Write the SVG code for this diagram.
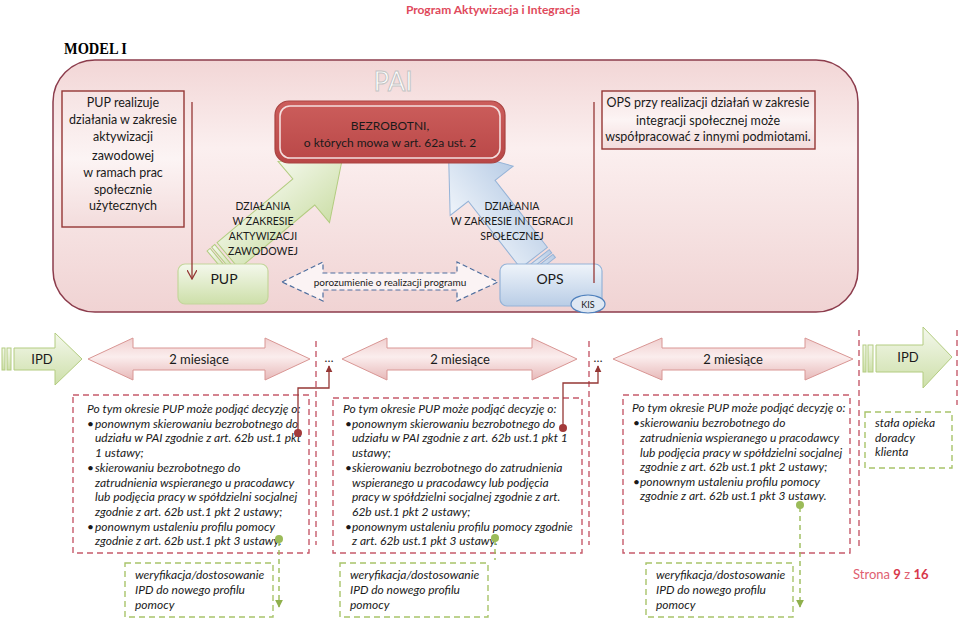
<svg xmlns="http://www.w3.org/2000/svg" width="960" height="619" viewBox="0 0 960 619">
<defs>
<linearGradient id="bgG" x1="0" y1="0" x2="0" y2="1"><stop offset="0" stop-color="#f2d6d6"/><stop offset="0.35" stop-color="#fbefef"/><stop offset="1" stop-color="#f0d3d3"/></linearGradient>
<linearGradient id="boxG" x1="0" y1="0" x2="0" y2="1"><stop offset="0" stop-color="#f6e3e3"/><stop offset="0.5" stop-color="#fcf4f4"/><stop offset="1" stop-color="#f3dcdc"/></linearGradient>
<linearGradient id="greenG" x1="0" y1="0" x2="0" y2="1"><stop offset="0" stop-color="#f4f8ec"/><stop offset="1" stop-color="#cddfa9"/></linearGradient>
<linearGradient id="blueG" x1="0" y1="0" x2="0" y2="1"><stop offset="0" stop-color="#eff4fa"/><stop offset="1" stop-color="#b9cde6"/></linearGradient>
<linearGradient id="pinkG" x1="0" y1="0" x2="0" y2="1"><stop offset="0" stop-color="#f0cfcf"/><stop offset="0.45" stop-color="#fbeded"/><stop offset="1" stop-color="#e7b9b9"/></linearGradient>
<linearGradient id="redG" x1="0" y1="0" x2="0" y2="1"><stop offset="0" stop-color="#cc5e5c"/><stop offset="1" stop-color="#b94747"/></linearGradient>
<marker id="redArr" viewBox="0 0 10 10" refX="9" refY="5" markerWidth="7" markerHeight="7" orient="auto" markerUnits="userSpaceOnUse"><path d="M0,0 L10,5 L0,10 z" fill="#953735"/></marker>
<marker id="greenArr" viewBox="0 0 10 10" refX="9" refY="5" markerWidth="8" markerHeight="8" orient="auto" markerUnits="userSpaceOnUse"><path d="M0,0 L10,5 L0,10 z" fill="#8fb04c"/></marker>
<marker id="openArr" viewBox="0 0 10 10" refX="9" refY="5" markerWidth="10" markerHeight="10" orient="auto" markerUnits="userSpaceOnUse"><path d="M0,0 L9,5 L0,10" fill="none" stroke="#953735" stroke-width="1.3"/></marker>
</defs>
<style>
text{font-family:Lato,"Liberation Sans","DejaVu Sans",sans-serif;fill:#1a1a1a}
.c{text-anchor:middle}
.t13{font-size:12.5px}
.lab{font-size:10.5px;text-anchor:middle}
.it{font-size:12px;font-style:italic}
.redDash{fill:none;stroke:#c65b6b;stroke-width:1.4;stroke-dasharray:6 4}
.grDash{fill:none;stroke:#a8c46a;stroke-width:1.4;stroke-dasharray:6 4}
.pinkArr{fill:url(#pinkG);stroke:#d99694;stroke-width:1}
.grArr{fill:url(#greenG);stroke:#b3cc80;stroke-width:1}
.blArr{fill:url(#blueG);stroke:#95b3d7;stroke-width:1}
.conn{fill:none;stroke:#953735;stroke-width:1.3}
.gconn{fill:none;stroke:#9bbb59;stroke-width:1.4;stroke-dasharray:5 4}
</style>

<text x="493" y="14" class="c" style="font-size:12px;font-weight:bold;fill:#e04a5c">Program Aktywizacja i Integracja</text>
<text x="64" y="54" style="font-family:'Liberation Serif',serif;font-size:16px;font-weight:bold;fill:#000" textLength="63" lengthAdjust="spacingAndGlyphs">MODEL I</text>

<g id="container">
<rect x="53" y="60" width="805" height="252" rx="42" fill="url(#bgG)" stroke="#8c3c4c" stroke-width="1.5"/>
</g>

<g id="pai-title"><text x="393" y="91" class="c" style="font-size:26px;fill:#ffffff;stroke:#c4c4c4;stroke-width:1">PAI</text></g>

<g id="arrow-pup">
<g transform="translate(218,264) rotate(-40)">
<rect x="0" y="-17" width="4" height="34" class="grArr"/>
<rect x="6" y="-17" width="4" height="34" class="grArr"/>
<polygon points="13,-17 112,-17 112,-40 162,0 112,40 112,17 13,17" class="grArr"/>
</g>
</g>
<g id="arrow-ops">
<g transform="translate(542,268) rotate(-128)">
<rect x="0" y="-17" width="4" height="34" class="blArr"/>
<rect x="6" y="-17" width="4" height="34" class="blArr"/>
<polygon points="13,-17 98,-17 98,-40 152,0 98,40 98,17 13,17" class="blArr"/>
</g>
</g>

<g id="left-info">
<rect x="62" y="91" width="122" height="136" fill="url(#boxG)" stroke="#953735" stroke-width="1.4"/>
<text class="c t13" x="123"><tspan x="123" y="107">PUP realizuje</tspan><tspan x="123" y="124">działania w zakresie</tspan><tspan x="123" y="141">aktywizacji</tspan><tspan x="123" y="160">zawodowej</tspan><tspan x="123" y="177">w ramach prac</tspan><tspan x="123" y="194">społecznie</tspan><tspan x="123" y="210">użytecznych</tspan></text>
</g>

<g id="right-info">
<rect x="602" y="91" width="213" height="58" fill="url(#boxG)" stroke="#953735" stroke-width="1.4"/>
<text class="c t13"><tspan x="708" y="107">OPS przy realizacji działań w zakresie</tspan><tspan x="708" y="125">integracji społecznej może</tspan><tspan x="708" y="141">współpracować z innymi podmiotami.</tspan></text>
</g>

<g id="bezrobotni">
<rect x="275" y="101" width="230" height="62" rx="14" fill="url(#redG)" stroke="#a94442" stroke-width="1.2"/>
<rect x="280" y="106" width="220" height="52" rx="10" fill="none" stroke="#f4dede" stroke-width="1.6"/>
<text class="c" style="font-size:12px"><tspan x="390" y="130">BEZROBOTNI,</tspan><tspan x="390" y="147">o których mowa w art. 62a ust. 2</tspan></text>
</g>

<g id="label-pup-actions"><text class="lab"><tspan x="263" y="210">DZIAŁANIA</tspan><tspan x="263" y="225">W ZAKRESIE</tspan><tspan x="263" y="240">AKTYWIZACJI</tspan><tspan x="263" y="255">ZAWODOWEJ</tspan></text></g>
<g id="label-ops-actions"><text class="lab"><tspan x="512" y="210">DZIAŁANIA</tspan><tspan x="512" y="225">W ZAKRESIE INTEGRACJI</tspan><tspan x="512" y="240">SPOŁECZNEJ</tspan></text></g>

<g id="pup">
<rect x="178" y="264" width="90" height="40" rx="7" fill="url(#greenG)" stroke="#c3d69b" stroke-width="1.2"/>
<text x="224" y="284" class="c" style="font-size:14px">PUP</text>
</g>

<g id="ops">
<rect x="500" y="264" width="102" height="42" rx="7" fill="url(#blueG)" stroke="#95b3d7" stroke-width="1.2"/>
<text x="550" y="284" class="c" style="font-size:14px">OPS</text>
</g>
<g id="kis">
<ellipse cx="588" cy="304" rx="17" ry="9" fill="#dfe8f3" stroke="#4f81bd" stroke-width="1.2"/>
<text x="588" y="307.5" class="c" style="font-size:9px">KIS</text>
</g>

<g id="porozumienie">
<polygon points="282,282 323,262 323,273 457,273 457,262 498,282 457,301 457,290 323,290 323,301" fill="#fbf3f4" stroke="#4f6f9f" stroke-width="1.2" stroke-dasharray="5 3"/>
<text x="390" y="285.5" class="c" style="font-size:10px">porozumienie o realizacji programu</text>
</g>

<g id="timeline">
<g id="ipd-left">
<rect x="2" y="348" width="3" height="22" class="grArr"/>
<rect x="7" y="348" width="4" height="22" class="grArr"/>
<polygon points="14,348 55,348 55,333 82,359 55,385 55,370 14,370" class="grArr"/>
<text x="42" y="363.5" class="c" style="font-size:13px">IPD</text>
</g>
<g id="period1">
<polygon points="88,359 133,338 133,348 265,348 265,338 310,359 265,380 265,370 133,370 133,380" class="pinkArr"/>
<text x="199" y="363.5" class="c" style="font-size:13px">2 miesiące</text>
</g>
<g id="dots1"><text x="329" y="362" class="c" style="font-size:12px">…</text></g>
<g id="period2">
<polygon points="342,359 387,338 387,348 532,348 532,338 577,359 532,380 532,370 387,370 387,380" class="pinkArr"/>
<text x="460" y="363.5" class="c" style="font-size:13px">2 miesiące</text>
</g>
<g id="dots2"><text x="598" y="362" class="c" style="font-size:12px">…</text></g>
<g id="period3">
<polygon points="613,359 662,338 662,348 805,348 805,338 853,359 805,380 805,370 662,370 662,380" class="pinkArr"/>
<text x="733" y="363.5" class="c" style="font-size:13px">2 miesiące</text>
</g>
<g id="ipd-right">
<rect x="863" y="345" width="3" height="27" class="grArr"/>
<rect x="868" y="345" width="5" height="27" class="grArr"/>
<polygon points="876,345 923,345 923,327 952,357 923,388 923,372 876,372" class="grArr"/>
<text x="908" y="362" class="c" style="font-size:13px">IPD</text>
</g>
</g>

<g id="separators">
<line x1="316" y1="341" x2="316" y2="545" class="redDash"/>
<line x1="589" y1="341" x2="589" y2="545" class="redDash"/>
<line x1="859" y1="330" x2="859" y2="548" class="redDash"/>
<line x1="957" y1="330" x2="957" y2="405" class="redDash"/>
</g>

<g id="decision1">
<rect x="73" y="395" width="236" height="158" class="redDash"/>
<text class="it"><tspan x="87" y="413">Po tym okresie PUP może podjąć decyzję o:</tspan></text>
<text class="it"><tspan x="87" y="428">•</tspan><tspan x="87" y="472">•</tspan><tspan x="87" y="531">•</tspan></text>
<text class="it"><tspan x="95" y="428">ponownym skierowaniu bezrobotnego do</tspan><tspan x="95" y="442">udziału w PAI zgodnie z art. 62b ust.1 pkt</tspan><tspan x="95" y="457">1 ustawy;</tspan><tspan x="95" y="472">skierowaniu bezrobotnego do</tspan><tspan x="95" y="487">zatrudnienia wspieranego u pracodawcy</tspan><tspan x="95" y="501">lub podjęcia pracy w spółdzielni socjalnej</tspan><tspan x="95" y="516">zgodnie z art. 62b ust.1 pkt 2 ustawy;</tspan><tspan x="95" y="531">ponownym ustaleniu profilu pomocy</tspan><tspan x="95" y="545">zgodnie z art. 62b ust.1 pkt 3 ustawy.</tspan></text>
</g>

<g id="decision2">
<rect x="333" y="398" width="249" height="155" class="redDash"/>
<text class="it"><tspan x="343" y="413">Po tym okresie PUP może podjąć decyzję o:</tspan></text>
<text class="it"><tspan x="345" y="428">•</tspan><tspan x="345" y="472">•</tspan><tspan x="345" y="531">•</tspan></text>
<text class="it"><tspan x="352" y="428">ponownym skierowaniu bezrobotnego do</tspan><tspan x="352" y="442">udziału w PAI zgodnie z art. 62b ust.1 pkt 1</tspan><tspan x="352" y="457">ustawy;</tspan><tspan x="352" y="472">skierowaniu bezrobotnego do zatrudnienia</tspan><tspan x="352" y="487">wspieranego u pracodawcy lub podjęcia</tspan><tspan x="352" y="501">pracy w spółdzielni socjalnej zgodnie z art.</tspan><tspan x="352" y="516">62b ust.1 pkt 2 ustawy;</tspan><tspan x="352" y="531">ponownym ustaleniu profilu pomocy zgodnie</tspan><tspan x="352" y="545">z art. 62b ust.1 pkt 3 ustawy.</tspan></text>
</g>

<g id="decision3">
<rect x="623" y="395" width="227" height="158" class="redDash"/>
<text class="it"><tspan x="632" y="412">Po tym okresie PUP może podjąć decyzję o:</tspan></text>
<text class="it"><tspan x="633" y="427">•</tspan><tspan x="633" y="486">•</tspan></text>
<text class="it"><tspan x="640" y="427">skierowaniu bezrobotnego do</tspan><tspan x="640" y="442">zatrudnienia wspieranego u pracodawcy</tspan><tspan x="640" y="457">lub podjęcia pracy w spółdzielni socjalnej</tspan><tspan x="640" y="471">zgodnie z art. 62b ust.1 pkt 2 ustawy;</tspan><tspan x="640" y="486">ponownym ustaleniu profilu pomocy</tspan><tspan x="640" y="500">zgodnie z art. 62b ust.1 pkt 3 ustawy.</tspan></text>
</g>

<g id="stala-opieka">
<rect x="865" y="412" width="87" height="56" class="grDash"/>
<text class="it"><tspan x="875" y="427">stała opieka</tspan><tspan x="875" y="442">doradcy</tspan><tspan x="875" y="456">klienta</tspan></text>
</g>

<g id="weryf1">
<rect x="125" y="563" width="148" height="54" class="grDash"/>
<text class="it"><tspan x="135" y="579">weryfikacja/dostosowanie</tspan><tspan x="135" y="594">IPD do nowego profilu</tspan><tspan x="135" y="609">pomocy</tspan></text>
</g>
<g id="weryf2">
<rect x="340" y="563" width="148" height="54" class="grDash"/>
<text class="it"><tspan x="350" y="579">weryfikacja/dostosowanie</tspan><tspan x="350" y="594">IPD do nowego profilu</tspan><tspan x="350" y="609">pomocy</tspan></text>
</g>
<g id="weryf3">
<rect x="646" y="563" width="147" height="54" class="grDash"/>
<text class="it"><tspan x="656" y="579">weryfikacja/dostosowanie</tspan><tspan x="656" y="594">IPD do nowego profilu</tspan><tspan x="656" y="609">pomocy</tspan></text>
</g>

<g id="connectors">
<line x1="192" y1="102" x2="192" y2="279" class="conn" marker-end="url(#openArr)"/>
<line x1="594" y1="102" x2="594" y2="283" class="conn"/>
<polyline points="298,433 298,388 329,388 329,366" class="conn" marker-end="url(#redArr)"/>
<circle cx="298" cy="433" r="4" fill="#a33a3a"/>
<polyline points="563,428 563,383 598,383 598,366" class="conn" marker-end="url(#redArr)"/>
<circle cx="563" cy="428" r="4" fill="#a33a3a"/>
<line x1="279" y1="541" x2="279" y2="607" class="gconn" marker-end="url(#greenArr)"/>
<circle cx="279" cy="539" r="4" fill="#9bbb59"/>
<line x1="495" y1="540" x2="495" y2="560" class="gconn"/>
<circle cx="495" cy="538" r="4" fill="#9bbb59"/>
<line x1="800" y1="507" x2="800" y2="607" class="gconn" marker-end="url(#greenArr)"/>
<circle cx="800" cy="505" r="4" fill="#9bbb59"/>
</g>

<text x="853" y="579" style="font-size:13px;fill:#e06070">Strona <tspan style="font-weight:bold;fill:#d8384a">9</tspan> z <tspan style="font-weight:bold;fill:#d8384a">16</tspan></text>
</svg>
